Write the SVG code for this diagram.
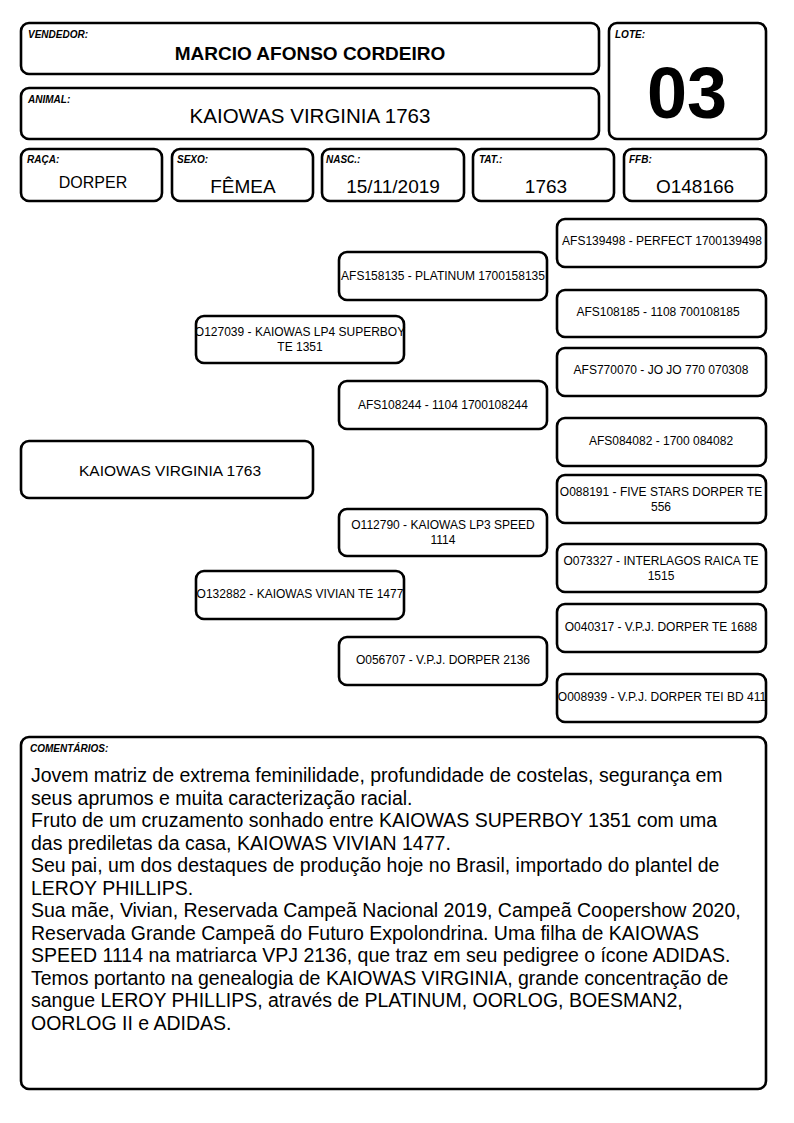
<svg xmlns="http://www.w3.org/2000/svg" width="794" height="1123" viewBox="0 0 794 1123">
<style>
.b{fill:#fff;stroke:#000;stroke-width:2.6}
.lb{font-family:"Liberation Sans",Arial,sans-serif;font-size:10px;font-weight:bold;font-style:italic;fill:#000}
.v{font-family:"Liberation Sans",Arial,sans-serif;font-size:19px;fill:#000;text-anchor:middle}
.p{font-family:"Liberation Sans",Arial,sans-serif;font-size:12px;fill:#000;text-anchor:middle}
.c{font-family:"Liberation Sans",Arial,sans-serif;font-size:19.5px;fill:#000}
</style>
<rect width="794" height="1123" fill="#fff"/>
<g id="vendedor"><rect class="b" x="21" y="23" width="578" height="51" rx="8"/><text class="lb" x="28" y="38">VENDEDOR:</text><text class="v" x="310" y="60" style="font-size:19px;font-weight:bold">MARCIO AFONSO CORDEIRO</text></g>
<g id="animal"><rect class="b" x="21" y="88" width="578" height="51" rx="8"/><text class="lb" x="28" y="103">ANIMAL:</text><text class="v" x="310" y="123" style="font-size:20.5px">KAIOWAS VIRGINIA 1763</text></g>
<g id="lote"><rect class="b" x="609" y="23" width="157" height="116" rx="8"/><text class="lb" x="615" y="38">LOTE:</text><text class="v" x="687" y="118" style="font-size:72px;font-weight:bold">03</text></g>
<g id="raca"><rect class="b" x="21" y="149" width="141" height="52" rx="8"/><text class="lb" x="27" y="163">RAÇA:</text><text class="v" x="93" y="188" style="font-size:16px">DORPER</text></g>
<g id="sexo"><rect class="b" x="172" y="149" width="141" height="52" rx="8"/><text class="lb" x="177" y="163">SEXO:</text><text class="v" x="243" y="193">FÊMEA</text></g>
<g id="nasc"><rect class="b" x="322" y="149" width="142" height="52" rx="8"/><text class="lb" x="326" y="163">NASC.:</text><text class="v" x="393" y="193">15/11/2019</text></g>
<g id="tat"><rect class="b" x="473" y="149" width="141" height="52" rx="8"/><text class="lb" x="479" y="163">TAT.:</text><text class="v" x="546" y="193">1763</text></g>
<g id="ffb"><rect class="b" x="624" y="149" width="142" height="52" rx="8"/><text class="lb" x="629" y="163">FFB:</text><text class="v" x="695" y="193">O148166</text></g>
<g id="connectors"></g>
<g id="n0"><rect class="b" x="21" y="441" width="292" height="57" rx="8"/><text class="p" x="170" y="476" style="font-size:15.5px">KAIOWAS VIRGINIA 1763</text></g>
<g id="n1"><rect class="b" x="196" y="316" width="208" height="47" rx="8"/><text class="p" x="300" y="336">O127039 - KAIOWAS LP4 SUPERBOY</text><text class="p" x="300" y="351">TE 1351</text></g>
<g id="n2"><rect class="b" x="196" y="571" width="208" height="48" rx="8"/><text class="p" x="300" y="598">O132882 - KAIOWAS VIVIAN TE 1477</text></g>
<g id="n3"><rect class="b" x="339" y="252" width="208" height="48" rx="8"/><text class="p" x="443" y="280">AFS158135 - PLATINUM 1700158135</text></g>
<g id="n4"><rect class="b" x="339" y="381" width="208" height="48" rx="8"/><text class="p" x="443" y="409">AFS108244 - 1104 1700108244</text></g>
<g id="n5"><rect class="b" x="339" y="509" width="208" height="47" rx="8"/><text class="p" x="443" y="529">O112790 - KAIOWAS LP3 SPEED</text><text class="p" x="443" y="544">1114</text></g>
<g id="n6"><rect class="b" x="339" y="637" width="208" height="48" rx="8"/><text class="p" x="443" y="664">O056707 - V.P.J. DORPER 2136</text></g>
<g id="n7"><rect class="b" x="557" y="219" width="209" height="48" rx="8"/><text class="p" x="662" y="245">AFS139498 - PERFECT 1700139498</text></g>
<g id="n8"><rect class="b" x="557" y="290" width="209" height="47" rx="8"/><text class="p" x="658" y="316">AFS108185 - 1108 700108185</text></g>
<g id="n9"><rect class="b" x="557" y="348" width="209" height="48" rx="8"/><text class="p" x="661" y="374">AFS770070 - JO JO 770 070308</text></g>
<g id="n10"><rect class="b" x="557" y="418" width="209" height="48" rx="8"/><text class="p" x="661" y="445">AFS084082 - 1700 084082</text></g>
<g id="n11"><rect class="b" x="557" y="475" width="209" height="48" rx="8"/><text class="p" x="661" y="496">O088191 - FIVE STARS DORPER TE</text><text class="p" x="661" y="511">556</text></g>
<g id="n12"><rect class="b" x="557" y="544" width="209" height="48" rx="8"/><text class="p" x="661" y="565">O073327 - INTERLAGOS RAICA TE</text><text class="p" x="661" y="580">1515</text></g>
<g id="n13"><rect class="b" x="557" y="604" width="209" height="48" rx="8"/><text class="p" x="661" y="631">O040317 - V.P.J. DORPER TE 1688</text></g>
<g id="n14"><rect class="b" x="557" y="674" width="209" height="48" rx="8"/><text class="p" x="662" y="701">O008939 - V.P.J. DORPER TEI BD 411</text></g>
<g id="comentarios"><rect class="b" x="21" y="737" width="745" height="352" rx="8"/><text class="lb" x="30" y="752">COMENTÁRIOS:</text>
<text class="c" x="31" y="782">Jovem matriz de extrema feminilidade, profundidade de costelas, segurança em</text>
<text class="c" x="31" y="804.5">seus aprumos e muita caracterização racial.</text>
<text class="c" x="31" y="827">Fruto de um cruzamento sonhado entre KAIOWAS SUPERBOY 1351 com uma</text>
<text class="c" x="31" y="849.5">das prediletas da casa, KAIOWAS VIVIAN 1477.</text>
<text class="c" x="31" y="872">Seu pai, um dos destaques de produção hoje no Brasil, importado do plantel de</text>
<text class="c" x="31" y="894.5">LEROY PHILLIPS.</text>
<text class="c" x="31" y="917">Sua mãe, Vivian, Reservada Campeã Nacional 2019, Campeã Coopershow 2020,</text>
<text class="c" x="31" y="939.5">Reservada Grande Campeã do Futuro Expolondrina. Uma filha de KAIOWAS</text>
<text class="c" x="31" y="962">SPEED 1114 na matriarca VPJ 2136, que traz em seu pedigree o ícone ADIDAS.</text>
<text class="c" x="31" y="984.5">Temos portanto na genealogia de KAIOWAS VIRGINIA, grande concentração de</text>
<text class="c" x="31" y="1007">sangue LEROY PHILLIPS, através de PLATINUM, OORLOG, BOESMAN2,</text>
<text class="c" x="31" y="1029.5">OORLOG II e ADIDAS.</text>
</g>
</svg>
